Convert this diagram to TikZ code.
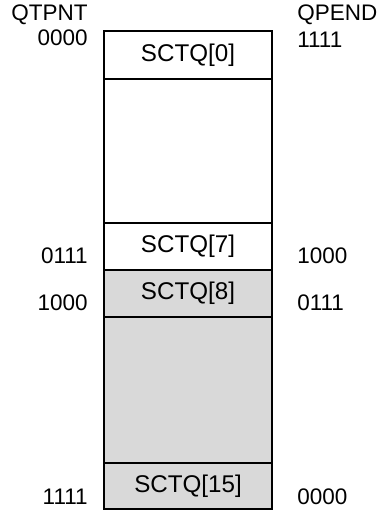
\documentclass[tikz,border=0pt]{standalone}
\usepackage{fontspec}
\setmainfont{Liberation Sans}
\usetikzlibrary{positioning}

\definecolor{usedgray}{RGB}{217,217,217}

\begin{document}
\begin{tikzpicture}[
        node distance=0pt,
        cell/.style={
            rectangle,
            draw=black,
            line width=1.4pt,
            minimum width=4.2cm,
            inner sep=0pt,
            outer sep=0pt,
            font=\fontsize{17.2}{20}\selectfont
        },
        used/.style={
            fill=usedgray
        },
        idxlabel/.style={
            inner sep=0pt,
            font=\fontsize{16}{19}\selectfont
        }
    ]

    \useasboundingbox (0,0) rectangle (9.625,-12.8);

    % Warteschlange - Eintraege von oben nach unten
    \node[cell, minimum height=1.2cm, anchor=north west] (sctq0) at (2.6,-0.775) {SCTQ[0]};
    \node[cell, minimum height=3.6cm] (gapfree) [below=of sctq0] {};
    \node[cell, minimum height=1.175cm] (sctq7) [below=of gapfree] {SCTQ[7]};
    \node[cell, used, minimum height=1.175cm] (sctq8) [below=of sctq7] {SCTQ[8]};
    \node[cell, used, minimum height=3.65cm] (gapused) [below=of sctq8] {};
    \node[cell, used, minimum height=1.15cm] (sctq15) [below=of gapused] {SCTQ[15]};

    % QTPNT (links)
    \node[idxlabel, anchor=east] (qtpnt) at (2.2,-0.3625) {QTPNT};
    \node[idxlabel, anchor=east] (qtpnt0) at (2.2,-0.95) {0000};
    \node[idxlabel, anchor=east] (qtpnt7) at (2.2,-6.4) {0111};
    \node[idxlabel, anchor=east] (qtpnt8) at (2.2,-7.575) {1000};
    \node[idxlabel, anchor=east] (qtpnt15) at (2.2,-12.425) {1111};

    % QPEND (rechts)
    \node[idxlabel, anchor=west] (qpend) at (7.425,-0.3625) {QPEND};
    \node[idxlabel, anchor=west] (qpend0) at (7.425,-1.0) {1111};
    \node[idxlabel, anchor=west] (qpend7) at (7.425,-6.4) {1000};
    \node[idxlabel, anchor=west] (qpend8) at (7.425,-7.575) {0111};
    \node[idxlabel, anchor=west] (qpend15) at (7.425,-12.425) {0000};

\end{tikzpicture}
\end{document}
